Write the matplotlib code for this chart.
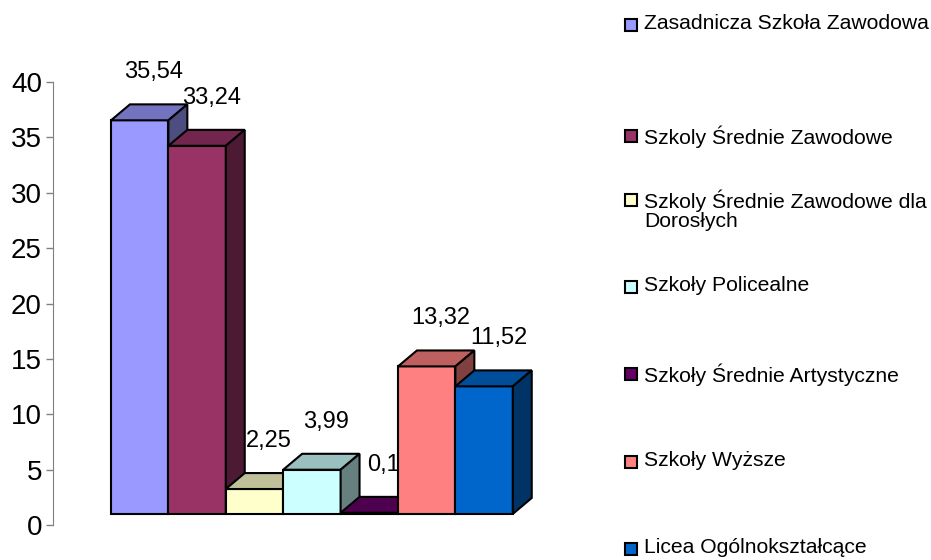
import matplotlib
matplotlib.use("Agg")
import matplotlib.pyplot as plt
from matplotlib.patches import Polygon, Rectangle
from matplotlib.colors import to_rgb

plt.rcParams['font.family'] = ['Liberation Sans', 'DejaVu Sans']

# data
categories = [
    "Zasadnicza Szkoła Zawodowa",
    "Szkoly Średnie Zawodowe",
    "Szkoly Średnie Zawodowe dla\nDorosłych",
    "Szkoły Policealne",
    "Szkoły Średnie Artystyczne",
    "Szkoły Wyższe",
    "Licea Ogólnokształcące",
]
values = [35.54, 33.24, 2.25, 3.99, 0.1, 13.32, 11.52]
colors = ["#9999FF", "#993366", "#FFFFCC", "#CCFFFF", "#660066", "#FF8080", "#0066CC"]
yticks = [0, 5, 10, 15, 20, 25, 30, 35, 40]


def shade(c, f):
    r, g, b = to_rgb(c)
    return (r * f, g * f, b * f)


W, H = 931, 560
fig = plt.figure(figsize=(W / 100, H / 100), dpi=100)
ax_left, ax_right, ax_top, ax_bot = 53, 560, 82, 525
ax = fig.add_axes([ax_left / W, (H - ax_bot) / H, (ax_right - ax_left) / W, (ax_bot - ax_top) / H])

bar_px = 57.4
ax.set_xlim(0, (ax_right - ax_left) / bar_px)
ax.set_ylim(0, 40)

start = (111 - ax_left) / bar_px   # first bar left edge (bar units)
base = 1.0        # front face floor offset
ddx, ddy = 0.33, 1.44   # depth offset

for i, (v, c) in enumerate(zip(values, colors)):
    x0 = start + i
    x1 = x0 + 1
    y0 = base
    y1 = base + v
    z = 3 + i
    kw = dict(edgecolor="black", linewidth=1.5, joinstyle="miter", clip_on=False, zorder=z)
    ax.add_patch(Polygon([(x0, y0), (x1, y0), (x1, y1), (x0, y1)], closed=True, facecolor=c, **kw))
    ax.add_patch(Polygon([(x0, y1), (x0 + ddx, y1 + ddy), (x1 + ddx, y1 + ddy), (x1, y1)],
                         closed=True, facecolor=shade(c, 0.75), **kw))
    ax.add_patch(Polygon([(x1, y0), (x1 + ddx, y0 + ddy), (x1 + ddx, y1 + ddy), (x1, y1)],
                         closed=True, facecolor=shade(c, 0.5), **kw))
    ax.text(x0 + 0.5 + 0.25, y1 + 4.35, str(v).replace('.', ','), ha='center', va='center',
            fontsize=17, zorder=20)

ax.set_yticks(yticks)
ax.set_yticklabels([str(t) for t in yticks], fontsize=20)
ax.set_xticks([])
for s in ["top", "right", "bottom"]:
    ax.spines[s].set_visible(False)
ax.spines["left"].set_color("#808080")
ax.tick_params(axis='y', colors="#808080", labelcolor="black", length=5, width=1, pad=3)
ax.patch.set_alpha(0)

# legend
leg_y = [25, 136, 200, 287, 374, 462, 549]
for name, c, y in zip(categories, colors, leg_y):
    fig.patches.append(Rectangle((625 / W, (H - y - 6) / H), 12 / W, 12 / H,
                                 transform=fig.transFigure, facecolor=c, edgecolor="black",
                                 linewidth=1.5, figure=fig))
    fig.text(644 / W, (H - y + 11) / H, name, ha='left', va='top', fontsize=15.2,
             linespacing=1.05)

fig.savefig("out.png", dpi=100)
